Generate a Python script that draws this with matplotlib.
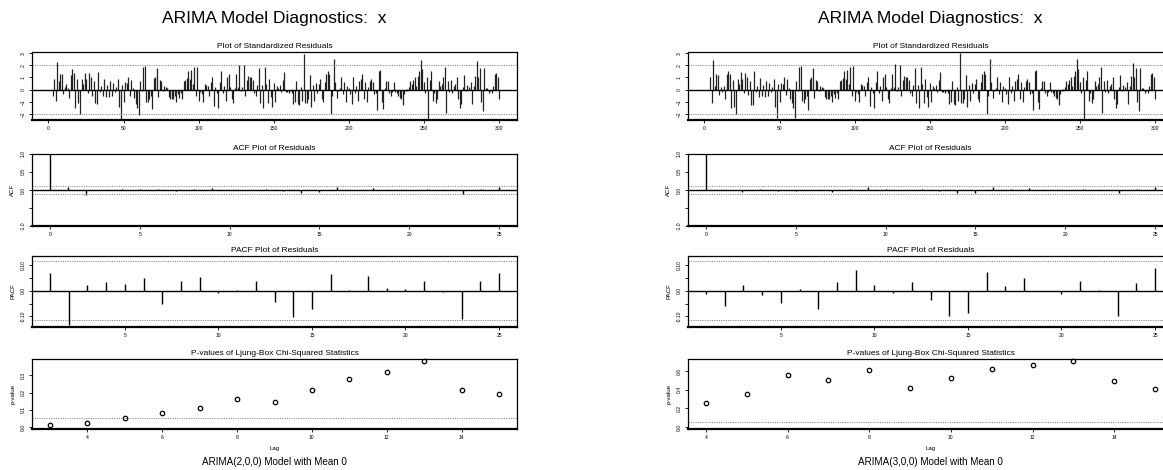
import matplotlib
matplotlib.use("Agg")
import matplotlib.pyplot as plt
import numpy as np

plt.rcParams['font.family'] = ['Liberation Sans', 'DejaVu Sans']

W, H = 1163, 470

# standardized residuals, ARIMA(2,0,0), t = 3..300
res_left = [
    -0.55, 0.85, -0.95, 2.3, 0.7, 1.3, 1.25, -0.35, 0.2, 0.45,
    0.1, -0.7, 1.2, 1.7, 1.35, -1.5, 0.9, -1.1, -2.0, 0.85,
    0.5, 1.4, 0.9, -0.3, 1.35, 1.05, -0.5, 0.75, -1.1, -1.2,
    1.45, -0.2, 0.3, -0.55, 0.9, -0.6, 0.35, -0.6, 0.75, -0.55,
    0.55, -0.2, 0.2, 0.9, -1.4, -2.4, 0.4, -1.0, 0.6, 0.55,
    1.05, -0.5, 0.8, 0.15, -0.7, -1.15, -1.5, -2.05, 0.7, -0.1,
    1.85, 1.95, -1.0, -1.05, -0.8, -0.5, -1.6, 0.95, 1.0, 1.8,
    -0.6, 0.8, 0.7, -0.15, 0.3, 0.2, 0.15, -0.6, -0.75, -0.75,
    -0.8, -0.55, -1.0,
    -0.4, -0.7, -0.3, -0.8, 0.7, 0.8, 0.95, 1.5, 0.9, 1.6,
    0.5, 1.9, -0.5, 1.9, -0.9, -0.2, -0.4, -1.0, 0.5, 0.4,
    0.3, -0.5, 0.6, 1.05, -1.35, 0.2, -0.3, -1.5, 0.6, 1.55,
    -0.3, 0.3, -0.9, 1.0, 1.3, 0.2, -0.75, -1.1, 0.1, 1.3,
    0.2, 2.05, -0.15, 0.2, 2.0, -0.5, 0.8, 1.1, 1.05, 1.0,
    0.8, -0.3, -0.5, 0.35, 1.75, -1.1, 0.4, -1.5, 1.85, 0.5,
    -1.1, 0.9, -0.6, -1.45,
    0.55, -1.0, 0.3, 0.1, 0.4, -0.2, 0.8, 1.45, -0.2, -0.2,
    -0.3, -0.1, -0.3, -1.2, -1.0, 0.7, -1.2, -1.3, 0.25, -0.9,
    2.95, -1.1, -1.1, -0.8, 1.2, -1.45, 0.4, -0.9, 0.55, -0.25,
    0.5, 0.9, -0.8, -1.05, 0.6, 1.3, 1.5, 1.3, -2.0, -0.5,
    2.5, 0.6, -0.7, -0.1, 0.15, 1.0, -0.4, 0.6, -1.0, 0.3,
    0.1, -0.4, -1.2, 1.0, -0.3, 0.3, -0.9, 0.7, 0.9, 1.3,
    -0.8, 0.6, -1.0, 0.2, 0.7, 0.9, 0.6, -0.4, -0.3, -1.65,
    1.55, 1.6, -1.0, -1.6, 0.15, 0.7, 0.7, -0.3, -0.5, -0.2,
    0.6, -0.2, -0.3, -0.5, -0.7, -0.8, -1.3, -0.4, -0.1, 0.05,
    0.2, 0.7, 0.5, 0.8, 1.0, 0.3, 1.1, 1.5, 2.4, 1.7,
    0.6, -0.3, 1.0, -2.4, 0.8, 1.5, -0.9, -0.3, -1.1, -0.8,
    0.7, 0.3, 0.5, 1.0, 1.9, -1.9, 0.7, -0.2, 0.8, -0.3,
    0.3, 0.5, 1.0, -0.8, -1.5, -1.2, 0.2, 1.2, -0.1, 0.4,
    0.2, 0.6, -1.2, 0.3, 1.1, 2.35, 1.0, 1.8, -1.0, -1.8,
    1.8, 0.1, 0.1, -0.3, -0.1, -0.3, 0.3, 1.3, 1.35, 1.05,
    -0.8,
]

# standardized residuals, ARIMA(3,0,0), t = 4..300
res_right = [
    1.0, -1.1, 2.4, 0.3, 1.3, 1.2, -0.45, 0.25, -0.2, 0.3,
    -0.8, 1.25, 1.55, 1.3, -1.5, 0.8, -1.4, -2.0, 0.9,
    0.5, 1.45, 0.9, -0.25, 1.4, 1.0, -0.45, 0.7, -1.3, -1.25,
    1.5, -0.2, 0.3, -0.6, 0.95, -0.5, 0.35, -0.6, 0.75, -0.5,
    0.55, -0.2, 0.25, 0.9, -1.45, -2.3, 0.45, -1.0, 0.55, 0.5,
    1.0, -0.45, 0.85, 0.15, -0.75, -1.1, -1.55, -2.35, 0.75, -0.1,
    1.9, 1.95, -0.95, -1.1, -0.8, -0.5, -1.7, 0.9, 1.05, 1.75,
    -0.65, 0.8, 0.7, -0.1, 0.3, 0.2, 0.1, -0.6, -0.8, -0.75,
    -0.8, -0.55, -1.0,
    -0.4, -0.7, -0.3, -0.8, 0.7, 0.8, 0.95, 1.5, 0.9, 1.6,
    0.5, 1.9, -0.5, 1.95, -0.9, -0.2, -0.4, -1.0, 0.5, 0.4,
    0.3, -0.5, 0.6, 1.0, -1.35, 0.2, -0.3, -1.5, 0.6, 1.55,
    -0.3, 0.3, -0.9, 1.0, 1.3, 0.2, -0.75, -1.1, 0.1, 1.3,
    0.2, 2.15, -0.15, 0.2, 2.0, -0.5, 0.8, 1.1, 1.05, 1.0,
    0.8, -0.3, -0.5, 0.35, 1.75, -1.1, 0.4, -1.5, 1.85, 0.5,
    -1.1, 0.9, -0.6, -1.45,
    0.55, -1.0, 0.3, 0.1, 0.4, -0.2, 0.8, 1.45, -0.2, -0.2,
    -0.3, -0.1, -0.3, -1.2, -1.0, 0.7, -1.2, -1.3, 0.25, -0.9,
    3.0, -1.1, -1.1, -0.8, 1.2, -1.45, 0.4, -0.9, 0.55, -0.25,
    0.5, 0.9, -0.8, -1.05, 0.6, 1.3, 1.5, 1.3, -2.0, -0.5,
    2.5, 0.6, -0.7, -0.1, 0.15, 1.0, -0.4, 0.6, -1.0, 0.3,
    0.1, -0.4, -1.2, 1.0, -0.3, 0.3, -0.9, 0.7, 0.9, 1.3,
    -0.8, 0.6, -1.0, 0.2, 0.7, 0.9, 0.6, -0.4, -0.3, -1.65,
    1.55, 1.6, -1.0, -1.6, 0.15, 0.7, 0.7, -0.3, -0.5, -0.2,
    0.6, -0.2, -0.3, -0.5, -0.7, -0.8, -1.3, -0.4, -0.1, 0.05,
    0.2, 0.7, 0.5, 0.8, 1.0, 0.3, 1.1, 1.5, 2.5, 1.7,
    0.6, -0.3, 1.0, -2.4, 0.8, 1.5, -0.9, -0.3, -1.1, -0.8,
    0.7, 0.3, 0.5, 1.0, 1.9, -1.9, 0.7, -0.2, 0.8, -0.3,
    0.3, 0.5, 1.0, -0.8, -1.5, -1.2, 0.2, 1.2, -0.1, 0.4,
    0.2, 0.6, -1.2, 0.3, 1.1, 2.2, 1.0, 1.8, -1.0, -1.8,
    1.8, 0.1, 0.1, -0.3, -0.1, -0.3, 0.3, 1.3, 1.35, 1.05,
    -0.8,
]

acf_lags = list(range(0, 26))
acf_left = [1.0, 0.08, -0.13, 0.01, 0.03, 0.02, 0.04, -0.04, 0.03, 0.06,
            0.0, 0.0, 0.03, -0.04, -0.09, -0.06, 0.07, 0.01, 0.06, 0.01,
            0.0, 0.04, 0.0, -0.1, 0.03, 0.07]
acf_right = [1.0, -0.01, -0.05, 0.02, -0.02, -0.04, 0.01, -0.06, 0.03, 0.07,
             0.02, -0.01, 0.03, -0.03, -0.09, -0.08, 0.07, 0.02, 0.05, 0.0,
             -0.01, 0.04, 0.0, -0.09, 0.03, 0.08]

pacf_lags = list(range(1, 26))
pacf_left = [0.069, -0.135, 0.023, 0.034, 0.026, 0.049, -0.051, 0.038, 0.055, -0.01,
             0.004, 0.038, -0.043, -0.104, -0.07, 0.066, 0.004, 0.058, 0.01, 0.005,
             0.04, -0.005, -0.11, 0.04, 0.07]
pacf_right = [-0.013, -0.06, 0.022, -0.017, -0.047, 0.008, -0.07, 0.033, 0.083, 0.022,
              -0.009, 0.035, -0.037, -0.099, -0.086, 0.075, 0.017, 0.051, -0.002, -0.014,
              0.04, 0.001, -0.1, 0.032, 0.088]

p_lags_left = list(range(3, 16))
p_left = [0.01, 0.025, 0.05, 0.081, 0.108, 0.165, 0.146, 0.212, 0.279, 0.321,
          0.383, 0.212, 0.192]
p_lags_right = list(range(4, 16))
p_right = [0.257, 0.36, 0.564, 0.504, 0.611, 0.418, 0.532, 0.625, 0.67, 0.71,
           0.49, 0.41]

titles = ["ARIMA(2,0,0) Model with Mean 0", "ARIMA(3,0,0) Model with Mean 0"]

fig = plt.figure(figsize=(W / 100, H / 100), dpi=100)

rows = [(52, 120), (154, 226), (256, 327), (359, 429)]
TS, LS, SUB = 3.6, 4.4, 6.0
DOT = dict(color='#8c8c8c', lw=0.7, ls=(0, (1.2, 1.2)))


def make_ax(x0, row):
    top, bot = rows[row]
    ax = fig.add_axes([x0 / W, 1 - bot / H, 485 / W, (bot - top) / H])
    for s in ax.spines.values():
        s.set_linewidth(0.9)
    ax.spines['bottom'].set_linewidth(1.6)
    ax.tick_params(labelsize=TS, length=2.5, width=0.6, pad=2)
    return ax


def rot(ax):
    plt.setp(ax.get_yticklabels(), rotation=90, va='center')


def column(x0, res, t0, acf, pacf, plags, pvals, caption):
    # standardized residuals
    ax = make_ax(x0, 0)
    t = np.arange(t0, t0 + len(res))
    ax.vlines(t, 0, res, color='#222222', lw=0.9)
    ax.axhline(0, color='black', lw=1.0)
    ax.axhline(2, **DOT)
    ax.axhline(-2, **DOT)
    ax.set_xlim(-10.96, 311.96)
    ax.set_ylim(-2.5, 3.1)
    ax.set_xticks(range(0, 301, 50))
    ax.set_yticks(range(-2, 4))
    rot(ax)
    ax.set_title("Plot of Standardized Residuals", fontsize=SUB, pad=3)

    # ACF
    ax = make_ax(x0, 1)
    ax.vlines(acf_lags, 0, acf, color='black', lw=1.0)
    ax.axhline(0, color='black', lw=1.0)
    ax.axhline(0.1155, **DOT)
    ax.axhline(-0.1155, **DOT)
    ax.set_xlim(-1, 26)
    ax.set_ylim(-1.0, 1.0)
    ax.set_xticks(range(0, 26, 5))
    ax.set_yticks([-1.0, -0.5, 0.0, 0.5, 1.0])
    ax.set_yticklabels(["-1.0", "", "0.0", "0.5", "1.0"])
    rot(ax)
    ax.set_ylabel("ACF", fontsize=LS, labelpad=4)
    ax.set_title("ACF Plot of Residuals", fontsize=SUB, pad=3)

    # PACF
    ax = make_ax(x0, 2)
    ax.vlines(pacf_lags, 0, pacf, color='black', lw=1.0)
    ax.axhline(0, color='black', lw=1.0)
    ax.axhline(0.1155, **DOT)
    ax.axhline(-0.1155, **DOT)
    ax.set_xlim(0.04, 25.96)
    ax.set_ylim(-0.142, 0.136)
    ax.set_xticks(range(5, 26, 5))
    ax.set_yticks([-0.10, -0.05, 0.0, 0.05, 0.10])
    ax.set_yticklabels(["-0.10", "", "0.0", "", "0.10"])
    rot(ax)
    ax.set_ylabel("PACF", fontsize=LS, labelpad=4)
    ax.set_title("PACF Plot of Residuals", fontsize=SUB, pad=3)

    # Ljung-Box p-values
    ax = make_ax(x0, 3)
    ax.plot(plags, pvals, 'o', ms=3.2, mfc='none', mec='black', mew=0.9, clip_on=False)
    ax.axhline(0.05, **DOT)
    span = plags[-1] - plags[0]
    ax.set_xlim(plags[0] - 0.04 * span, plags[-1] + 0.04 * span)
    top = max(pvals)
    ax.set_ylim(-0.03 * top, top * 1.03)
    ax.set_xticks(range(4, 15, 2))
    if top > 0.5:
        ax.set_yticks([0.0, 0.2, 0.4, 0.6])
    else:
        ax.set_yticks([0.0, 0.1, 0.2, 0.3])
    rot(ax)
    ax.set_ylabel("p-value", fontsize=LS, labelpad=4)
    ax.set_xlabel("Lag", fontsize=LS, labelpad=4)
    ax.set_title("P-values of Ljung-Box Chi-Squared Statistics", fontsize=SUB, pad=3)

    cx = (x0 + 242.5) / W
    fig.text(cx, 1 - 18 / H, "ARIMA Model Diagnostics:  x", ha='center', va='center', fontsize=12.5)
    fig.text(cx, 1 - 462 / H, caption, ha='center', va='center', fontsize=7.1)


column(32, res_left, 3, acf_left, pacf_left, p_lags_left, p_left, titles[0])
column(688, res_right, 4, acf_right, pacf_right, p_lags_right, p_right, titles[1])

fig.savefig("out.png", dpi=100)
